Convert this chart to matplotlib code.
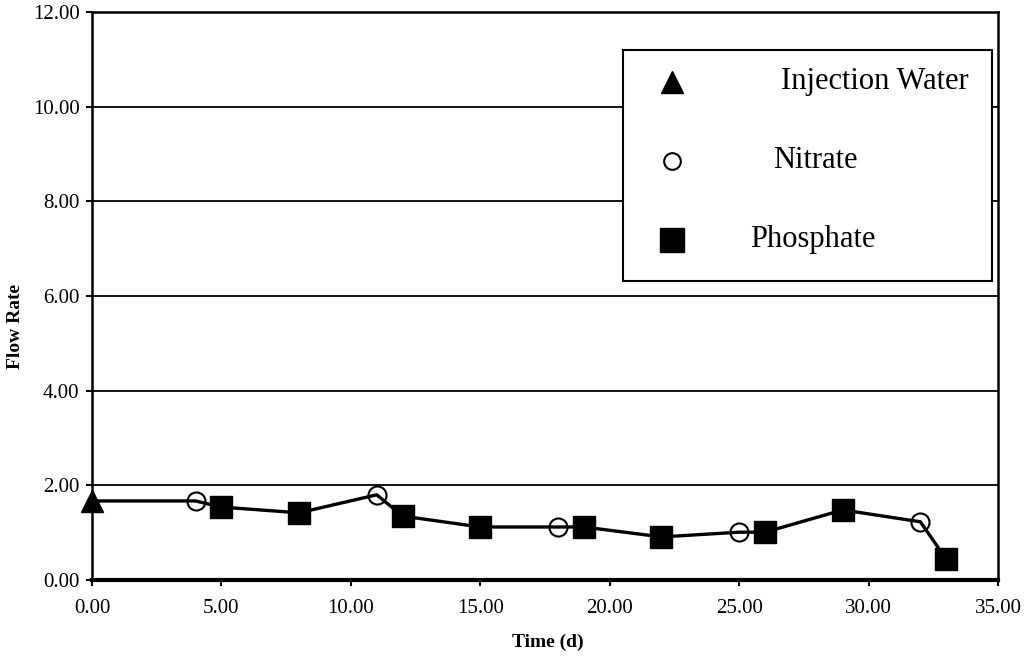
import numpy as np
import matplotlib.pyplot as plt
from matplotlib.patches import Rectangle

plt.rcParams["font.family"] = ["Liberation Serif", "DejaVu Serif"]

# sampling days and measured flow rates, in time order
time_d = [0, 4, 5, 8, 11, 12, 15, 18, 19, 22, 25, 26, 29, 32, 33]
flow_rate = [1.67, 1.67, 1.54, 1.42, 1.80, 1.35, 1.12, 1.12, 1.12,
             0.91, 1.01, 1.01, 1.48, 1.23, 0.44]
sample_type = ["inj", "nit", "pho", "pho", "nit", "pho", "pho", "nit", "pho",
               "pho", "nit", "pho", "pho", "nit", "pho"]

legend_labels = ["Injection Water", "Nitrate", "Phosphate"]

time_d = np.array(time_d)
flow_rate = np.array(flow_rate)
sample_type = np.array(sample_type)

W, H = 1029, 656
fig = plt.figure(figsize=(W / 100, H / 100), dpi=100)
# axes box in pixels: left 92, right 998, top 12, bottom 580
ax = fig.add_axes([92 / W, 1 - 580 / H, (998 - 92) / W, (580 - 12) / H])

# connecting line through all samples
ax.plot(time_d, flow_rate, color="black", lw=2.4, zorder=3)

m = sample_type == "inj"
ax.plot(time_d[m], flow_rate[m], ls="none", marker="^", ms=16,
        color="black", clip_on=False, zorder=4)
m = sample_type == "nit"
ax.plot(time_d[m], flow_rate[m], ls="none", marker="o", ms=13,
        mfc="none", mec="black", mew=1.5, zorder=4)
m = sample_type == "pho"
ax.plot(time_d[m], flow_rate[m], ls="none", marker="s", ms=15.5,
        color="black", zorder=4)

ax.set_xlim(0, 35)
ax.set_ylim(0, 12)
ax.set_xticks(np.arange(0, 36, 5))
ax.set_yticks(np.arange(0, 13, 2))
ax.xaxis.set_major_formatter(lambda v, p: f"{v:.2f}")
ax.yaxis.set_major_formatter(lambda v, p: f"{v:.2f}")
ax.tick_params(labelsize=15, direction="out", length=4, width=1.5)
ax.tick_params(axis="x", pad=10)
ax.tick_params(axis="y", pad=5)
ax.yaxis.grid(True, color="black", lw=1.3)
ax.set_axisbelow(True)

for side in ["left", "top", "right"]:
    ax.spines[side].set_linewidth(1.8)
ax.spines["bottom"].set_linewidth(3)

fig.text(548 / W, 1 - 642 / H, "Time (d)", fontsize=14,
         fontweight="bold", ha="center", va="center")
fig.text(15 / W, 1 - 326 / H, "Flow Rate", rotation=90, fontsize=14,
         fontweight="bold", ha="center", va="center")

# legend box drawn by hand
def ax_x(px):
    return (px - 92) / 906


def ax_y(py):
    return (580 - py) / 568


ax.add_patch(Rectangle((ax_x(623), ax_y(281)), ax_x(992) - ax_x(623),
                       ax_y(50) - ax_y(281), transform=ax.transAxes,
                       fc="white", ec="black", lw=1.5, zorder=5))
leg_y = [82, 161, 240]
leg_text_x = [781, 773, 750]
leg_markers = [dict(marker="^", ms=16, color="black"),
               dict(marker="o", ms=12, mfc="none", mec="black", mew=1.5),
               dict(marker="s", ms=17, color="black")]
for lab, y, tx, mk in zip(legend_labels, leg_y, leg_text_x, leg_markers):
    ax.plot([ax_x(672)], [ax_y(y)], ls="none", transform=ax.transAxes,
            zorder=6, **mk)
    ax.text(ax_x(tx), ax_y(y), lab, transform=ax.transAxes, fontsize=22,
            ha="left", va="center", zorder=6)

fig.savefig("out.png", dpi=100)
